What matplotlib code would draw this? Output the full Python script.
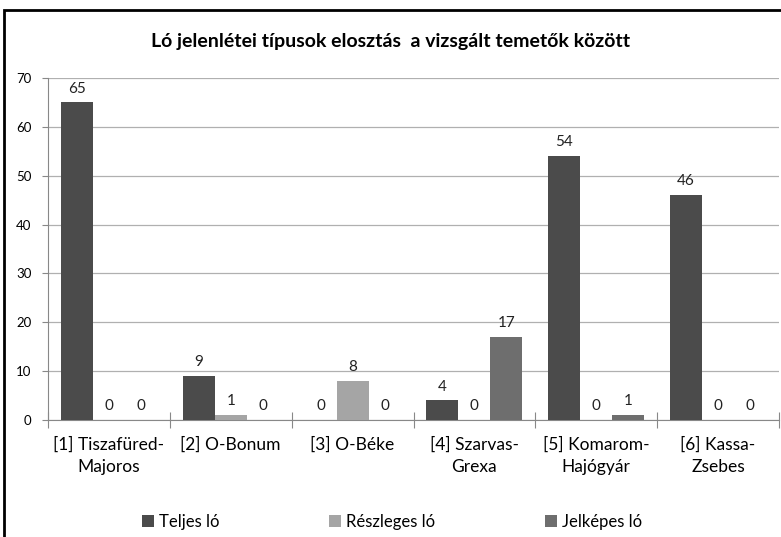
import numpy as np
import matplotlib.pyplot as plt
from matplotlib.patches import Rectangle

plt.rcParams['font.family'] = ['Lato', 'DejaVu Sans']

categories = ["[1] Tiszafüred-\nMajoros", "[2] O-Bonum", "[3] O-Béke",
              "[4] Szarvas-\nGrexa", "[5] Komarom-\nHajógyár", "[6] Kassa-\nZsebes"]
series_names = ["Teljes ló", "Részleges ló", "Jelképes ló"]
teljes = [65, 9, 0, 4, 54, 46]
reszleges = [0, 1, 8, 0, 0, 0]
jelkepes = [0, 0, 0, 17, 1, 0]
colors = ["#4b4b4b", "#a5a5a5", "#6e6e6e"]

fig = plt.figure(figsize=(7.81, 5.37), dpi=100)
ax = fig.add_axes([48/781, 1 - 420/537, 731/781, 342/537])

x = np.arange(len(categories))
w = 0.263
for i, (vals, name, c) in enumerate(zip([teljes, reszleges, jelkepes], series_names, colors)):
    pos = x + (i - 1) * w
    ax.bar(pos, vals, w, color=c, label=name, zorder=3)
    for p, v in zip(pos, vals):
        ax.text(p, v + 1.4, str(v), ha='center', va='bottom', fontsize=11, color='#222222')

ax.set_xlim(-0.5, len(categories) - 0.5)
ax.set_ylim(0, 70)
ax.set_yticks(range(0, 71, 10))
ax.tick_params(axis='y', labelsize=9.5, length=4, color='#888888', pad=8)
ax.yaxis.grid(True, color='#b0b0b0', linewidth=0.9, zorder=0)
ax.set_xticks(np.arange(-0.5, len(categories), 1.0))
ax.set_xticklabels([])
ax.set_xticks(x, minor=True)
ax.set_xticklabels(categories, minor=True, fontsize=12.5, linespacing=1.5)
ax.tick_params(axis='x', which='major', length=12, color='#888888', direction='inout')
ax.tick_params(axis='x', which='minor', length=0, pad=12)
for s in ['top', 'right']:
    ax.spines[s].set_visible(False)
for s in ['left', 'bottom']:
    ax.spines[s].set_color('#888888')

fig.text(0.5, 1 - 42/537, "Ló jelenlétei típusok elosztás  a vizsgált temetők között",
         ha='center', va='center', fontsize=14, fontweight='bold')

fig.legend(loc='center', bbox_to_anchor=(392/781, 1 - 522/537), ncol=3, frameon=False,
           fontsize=12, handlelength=0.7, handleheight=0.7, columnspacing=6.6, handletextpad=0.3)

fig.patches.append(Rectangle((4/781, -0.1), 1.2, 1 - 10/537 + 0.1, transform=fig.transFigure,
                             fill=False, edgecolor='black', linewidth=2))

fig.savefig("out.png", dpi=100)
